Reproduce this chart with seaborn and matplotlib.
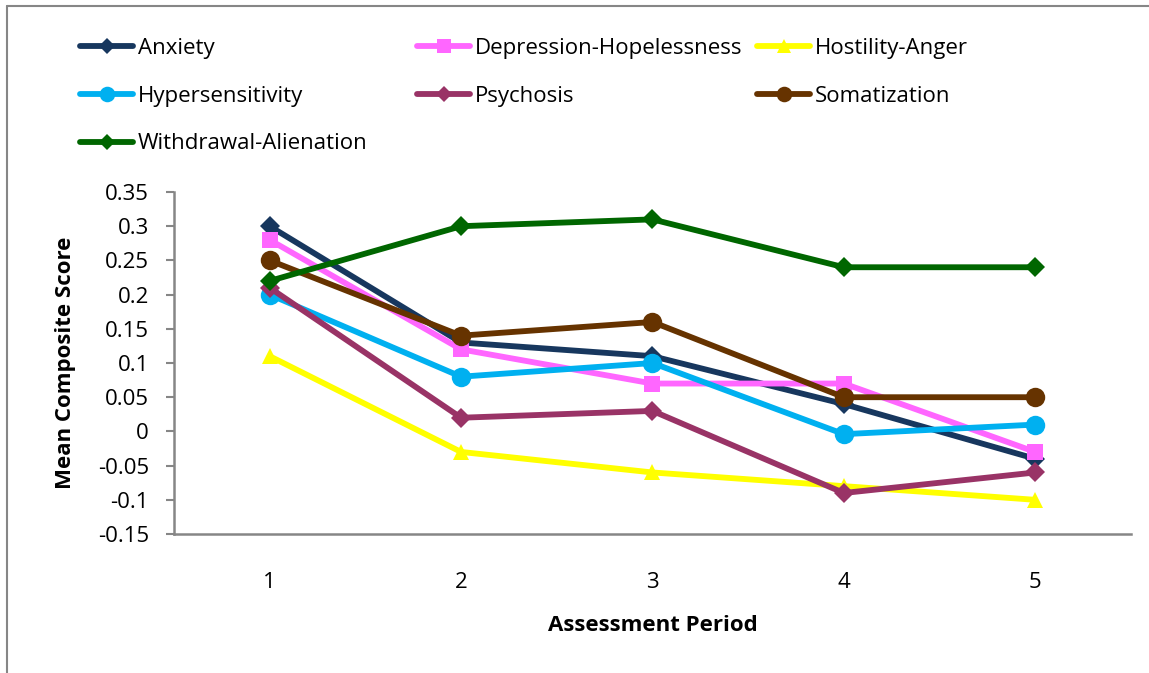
import pandas as pd
import numpy as np
import matplotlib
matplotlib.use("Agg")
import matplotlib.pyplot as plt
from matplotlib.lines import Line2D
import seaborn as sns

# Data
periods = [1, 2, 3, 4, 5]
anxiety = [0.30, 0.13, 0.11, 0.04, -0.04]
depression = [0.28, 0.12, 0.07, 0.07, -0.03]
hostility = [0.11, -0.03, -0.06, -0.08, -0.10]
hypersensitivity = [0.20, 0.08, 0.10, -0.004, 0.01]
psychosis = [0.21, 0.02, 0.03, -0.09, -0.06]
somatization = [0.25, 0.14, 0.16, 0.05, 0.05]
withdrawal = [0.22, 0.30, 0.31, 0.24, 0.24]

series_names = ["Anxiety", "Depression-Hopelessness", "Hostility-Anger",
                "Hypersensitivity", "Psychosis", "Somatization",
                "Withdrawal-Alienation"]
series_values = [anxiety, depression, hostility, hypersensitivity,
                 psychosis, somatization, withdrawal]

colors = ["#17375E", "#FF66FF", "#FFFF00", "#00B0F0", "#993366", "#663300", "#006600"]
markers = ["D", "s", "^", "o", "D", "o", "D"]
msizes = [10, 12, 12, 14, 10, 14, 10]

# long format table for seaborn
rows = []
for name, vals in zip(series_names, series_values):
    for p, v in zip(periods, vals):
        rows.append({"Period": p, "Series": name, "Score": v})
df = pd.DataFrame(rows)

sns.set_style("white")
plt.rcParams['font.family'] = ['Open Sans', 'DejaVu Sans']
plt.rcParams['text.color'] = 'black'

fig = plt.figure(figsize=(11.49, 6.73), dpi=100)
ax = fig.add_axes([0.1514, 0.2065, 0.8329, 0.5082])

sns.lineplot(data=df, x="Period", y="Score", hue="Series", style="Series",
             hue_order=series_names, style_order=series_names,
             palette=dict(zip(series_names, colors)),
             markers=dict(zip(series_names, markers)), dashes=False,
             linewidth=4.2, markeredgewidth=0, legend=False, ax=ax)

# set marker sizes per series
for line, ms in zip(ax.get_lines(), msizes):
    line.set_markersize(ms)

ax.set_xlim(0.5, 5.5)
ax.set_ylim(-0.15, 0.35)
ax.set_xticks(periods)
ax.set_xticklabels([str(p) for p in periods])
yt = [-0.15, -0.1, -0.05, 0, 0.05, 0.1, 0.15, 0.2, 0.25, 0.3, 0.35]
ax.set_yticks(yt)
ax.set_yticklabels(["-0.15", "-0.1", "-0.05", "0", "0.05", "0.1", "0.15",
                    "0.2", "0.25", "0.3", "0.35"])
ax.tick_params(axis="x", length=0, pad=27, labelsize=16, labelcolor="black")
ax.tick_params(axis="y", length=6, width=1.5, color="#868686", pad=12,
               labelsize=16, labelcolor="black", left=True)

for s in ["top", "right"]:
    ax.spines[s].set_visible(False)
for s in ["left", "bottom"]:
    ax.spines[s].set_color("#868686")
    ax.spines[s].set_linewidth(1.8)

ax.set_xlabel("Assessment Period", fontsize=16, fontweight="bold", labelpad=16, color="black")
ax.set_ylabel("Mean Composite Score", fontsize=16, fontweight="bold", labelpad=16, color="black")

# legend laid out like Excel: three evenly placed columns
handles = [Line2D([], [], color=c, marker=m, markersize=ms * 0.8, markeredgewidth=0,
                  linewidth=4.2) for c, m, ms in zip(colors, markers, msizes)]
legend_cols = [[0, 3, 6], [1, 4], [2, 5]]
col_x = [80, 417, 757]
for idx, x in zip(legend_cols, col_x):
    fig.legend([handles[i] for i in idx], [series_names[i] for i in idx],
               loc="upper left", bbox_to_anchor=(x / 1149, 1 - 38 / 673),
               frameon=False, fontsize=16, handlelength=2.4, handletextpad=0.2,
               labelspacing=1.2, borderpad=0, borderaxespad=0)

# thin frame around the chart area
fig.add_artist(Line2D([7 / 1149, 1], [1 - 6 / 673, 1 - 6 / 673], color="#868686", linewidth=1.5))
fig.add_artist(Line2D([7 / 1149, 7 / 1149], [0, 1 - 6 / 673], color="#868686", linewidth=1.5))

fig.savefig("out.png", dpi=100)
